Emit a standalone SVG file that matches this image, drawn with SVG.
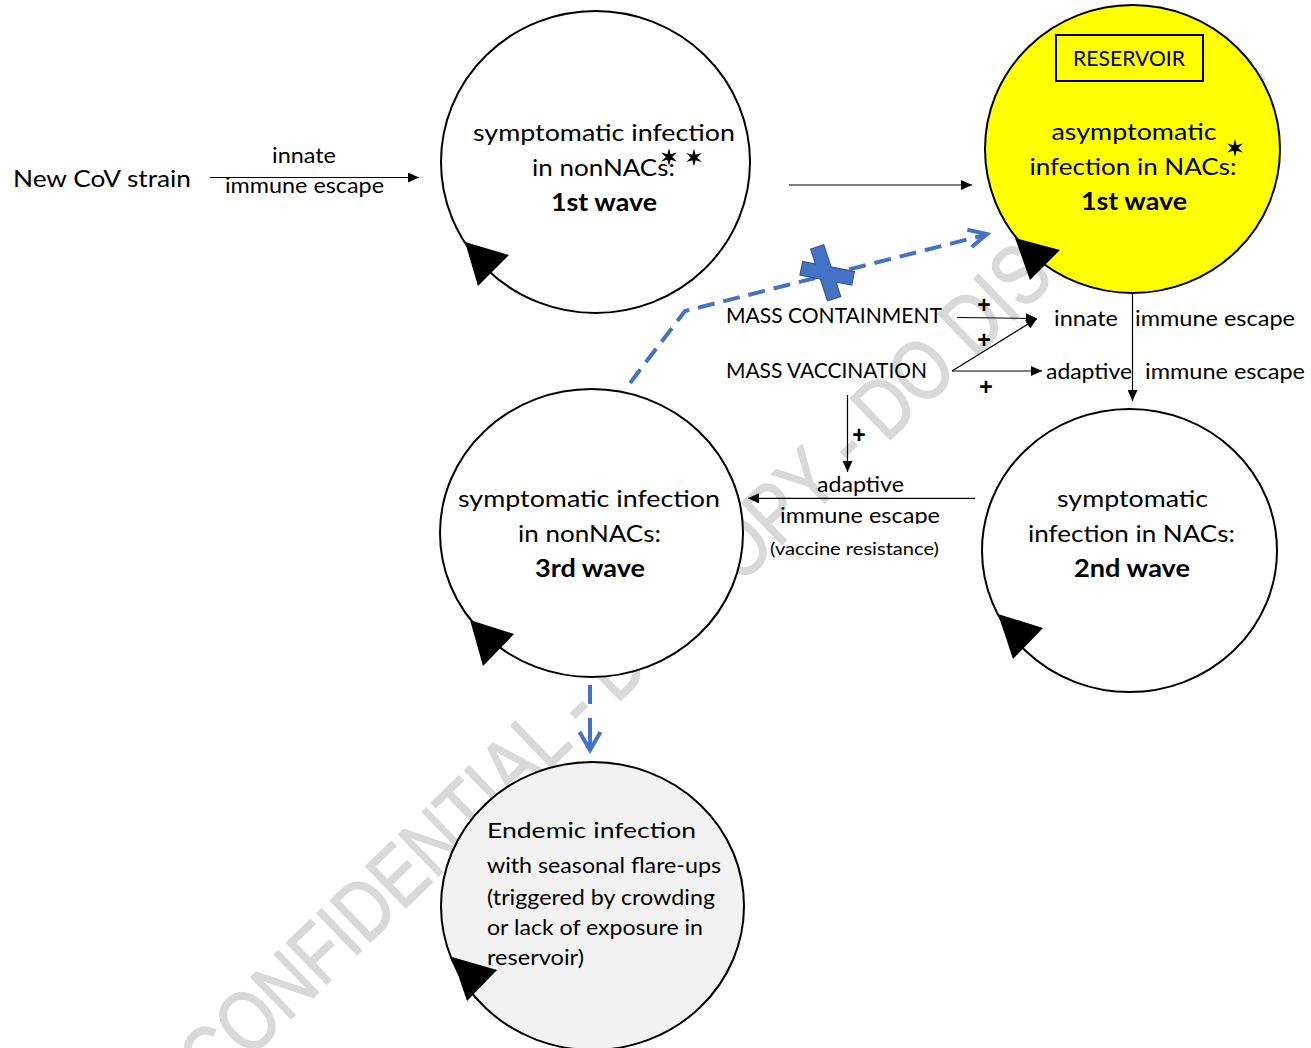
<svg xmlns="http://www.w3.org/2000/svg" width="1311" height="1048" viewBox="0 0 1311 1048">
<style>
text{font-family:Lato,"Liberation Sans",sans-serif;fill:#000}
.c{font-size:24px;text-anchor:middle}
.b{font-weight:bold}
.l{font-size:21px}
.m{text-anchor:middle}
.e{font-size:21px}
.p{font-family:"Liberation Sans",Arial,sans-serif;font-size:23px;font-weight:bold;text-anchor:middle}
.node{stroke:#000;stroke-width:2}
.ln{stroke:#000;stroke-width:1.2;fill:none}
.blue{stroke:#4472c4;stroke-width:4;fill:none}
.wm{font-family:"Liberation Sans",Arial,sans-serif;font-size:84px;fill:#d9d9d9;stroke:#d9d9d9;stroke-width:1.5}
</style>
<defs>
<marker id="ah" markerUnits="userSpaceOnUse" markerWidth="11" markerHeight="10" refX="11" refY="5" orient="auto">
<path d="M0,0 L11,5 L0,10 z" fill="#000"/>
</marker>
<polygon id="star" points="0,-9 1.6,-2.77 7.79,-4.5 3.2,0 7.79,4.5 1.6,2.77 0,9 -1.6,2.77 -7.79,4.5 -3.2,0 -7.79,-4.5 -1.6,-2.77" fill="#000"/>
<clipPath id="cl"><rect x="760" y="500" width="200" height="24"/></clipPath>
</defs>

<g id="watermark">
<text class="wm" transform="translate(213,1094) rotate(-44)" textLength="1465" lengthAdjust="spacingAndGlyphs">CONFIDENTIAL - DO COPY - DO DISTRIBUTE</text>
</g>

<g id="node-nonnacs-1st">
<ellipse class="node" cx="595.5" cy="162" rx="154.5" ry="151" fill="#fff"/>
<polygon points="465,242 509,255 478,286" fill="#000"/>
<text class="c" x="604" y="141" textLength="262" lengthAdjust="spacingAndGlyphs">symptomatic infection</text>
<text class="c" x="603.5" y="176" textLength="143" lengthAdjust="spacingAndGlyphs">in nonNACs:</text>
<text class="c b" x="604" y="211" textLength="106" lengthAdjust="spacingAndGlyphs">1st wave</text>
<use href="#star" x="669" y="157"/>
<use href="#star" x="694" y="157.5"/>
</g>

<g id="node-reservoir">
<ellipse class="node" cx="1132.5" cy="149" rx="147.5" ry="144" fill="#ffff00"/>
<polygon points="1015,238 1060,250 1030,280" fill="#000"/>
<rect x="1056" y="35" width="147" height="46" fill="none" stroke="#000" stroke-width="2"/>
<text class="l m" x="1129" y="66" textLength="112" lengthAdjust="spacingAndGlyphs">RESERVOIR</text>
<text class="c" x="1134" y="140" textLength="165" lengthAdjust="spacingAndGlyphs">asymptomatic</text>
<text class="c" x="1133" y="175" textLength="207" lengthAdjust="spacingAndGlyphs">infection in NACs:</text>
<text class="c b" x="1134" y="210" textLength="106" lengthAdjust="spacingAndGlyphs">1st wave</text>
<use href="#star" x="1235" y="148"/>
</g>

<g id="node-nonnacs-3rd">
<ellipse class="node" cx="591.5" cy="533" rx="151.5" ry="144" fill="#fff"/>
<polygon points="470,620 514,634 483,666" fill="#000"/>
<text class="c" x="589" y="507" textLength="262" lengthAdjust="spacingAndGlyphs">symptomatic infection</text>
<text class="c" x="589.5" y="542" textLength="143" lengthAdjust="spacingAndGlyphs">in nonNACs:</text>
<text class="c b" x="590" y="577" textLength="110" lengthAdjust="spacingAndGlyphs">3rd wave</text>
</g>

<g id="node-nacs-2nd">
<ellipse class="node" cx="1129.5" cy="550.5" rx="147.5" ry="141.5" fill="#fff"/>
<polygon points="998,614 1043,628 1013,659" fill="#000"/>
<text class="c" x="1132.5" y="507" textLength="151" lengthAdjust="spacingAndGlyphs">symptomatic</text>
<text class="c" x="1131.5" y="542" textLength="207" lengthAdjust="spacingAndGlyphs">infection in NACs:</text>
<text class="c b" x="1132" y="577" textLength="116" lengthAdjust="spacingAndGlyphs">2nd wave</text>
</g>

<g id="node-endemic">
<ellipse class="node" cx="592.5" cy="906" rx="151.5" ry="144" fill="#f2f2f2"/>
<polygon points="452,957 497,970 467,1001" fill="#000"/>
<text class="e" x="487" y="838" font-size="22" textLength="209" lengthAdjust="spacingAndGlyphs">Endemic infection</text>
<text class="e" x="487" y="873" textLength="234" lengthAdjust="spacingAndGlyphs">with seasonal flare-ups</text>
<text class="e" x="487" y="905" textLength="228" lengthAdjust="spacingAndGlyphs">(triggered by crowding</text>
<text class="e" x="487" y="935" textLength="216" lengthAdjust="spacingAndGlyphs">or lack of exposure in</text>
<text class="e" x="487" y="965" textLength="97" lengthAdjust="spacingAndGlyphs">reservoir)</text>
</g>

<g id="node-new-strain">
<text x="13" y="187" font-size="24" textLength="178" lengthAdjust="spacingAndGlyphs">New CoV strain</text>
</g>
<g id="node-mass-containment">
<text class="l" x="726" y="323" textLength="216" lengthAdjust="spacingAndGlyphs">MASS CONTAINMENT</text>
</g>
<g id="node-mass-vaccination">
<text class="l" x="726" y="378" textLength="201" lengthAdjust="spacingAndGlyphs">MASS VACCINATION</text>
</g>
<g id="node-innate-escape">
<text class="l" x="1054" y="326" textLength="64" lengthAdjust="spacingAndGlyphs">innate</text>
<text class="l" x="1135" y="326" textLength="160" lengthAdjust="spacingAndGlyphs">immune escape</text>
</g>
<g id="node-adaptive-escape">
<text class="l" x="1046" y="379" textLength="86" lengthAdjust="spacingAndGlyphs">adaptive</text>
<text class="l" x="1145" y="379" textLength="160" lengthAdjust="spacingAndGlyphs">immune escape</text>
</g>

<g id="connectors">
<line class="ln" x1="210" y1="177.5" x2="419" y2="177.5" marker-end="url(#ah)"/>
<line class="ln" x1="789" y1="185" x2="972" y2="185" marker-end="url(#ah)"/>
<line class="ln" x1="957" y1="317.5" x2="1037" y2="318.5" marker-end="url(#ah)"/>
<line class="ln" x1="952" y1="371" x2="1037" y2="318.5" marker-end="url(#ah)"/>
<line class="ln" x1="952" y1="371" x2="1042" y2="371" marker-end="url(#ah)"/>
<line class="ln" x1="1132.5" y1="293" x2="1132.5" y2="401" marker-end="url(#ah)"/>
<line class="ln" x1="847.5" y1="395" x2="847.5" y2="472" marker-end="url(#ah)"/>
<line class="ln" x1="975" y1="498.3" x2="748" y2="498.3" marker-end="url(#ah)"/>
<path class="blue" d="M630,383 L685,311 L983,235.5" stroke-dasharray="17 9"/>
<polyline class="blue" points="967.4,229.7 987,234 971.8,247.1"/>
<line class="blue" x1="590" y1="685" x2="590" y2="704"/>
<line class="blue" x1="590" y1="718" x2="590" y2="748"/>
<polyline class="blue" points="579.5,732 590,750 600.5,732"/>
<g stroke="#2f528f" stroke-width="2" fill="#4472c4">
<polygon points="800.45,274.7 851.45,284.7 853.95,271.9 802.95,261.9"/>
<polygon points="811.1,249.3 827.8,300.3 840.2,296.3 823.5,245.3"/>
</g>
<g fill="#4472c4">
<polygon points="800.45,274.7 851.45,284.7 853.95,271.9 802.95,261.9"/>
<polygon points="811.1,249.3 827.8,300.3 840.2,296.3 823.5,245.3"/>
</g>
</g>

<g id="labels">
<text class="l m" x="304" y="163" textLength="64" lengthAdjust="spacingAndGlyphs">innate</text>
<text class="l m" x="304.5" y="193" textLength="159" lengthAdjust="spacingAndGlyphs">immune escape</text>
<text class="l m" x="860.5" y="492" textLength="87" lengthAdjust="spacingAndGlyphs">adaptive</text>
<text class="l m" x="860" y="523" textLength="160" lengthAdjust="spacingAndGlyphs" clip-path="url(#cl)">immune escape</text>
<text class="m" x="854.5" y="555" font-size="18" textLength="169" lengthAdjust="spacingAndGlyphs">(vaccine resistance)</text>
<text class="p" x="984" y="313">+</text>
<text class="p" x="984" y="348">+</text>
<text class="p" x="986" y="395">+</text>
<text class="p" x="859" y="443">+</text>
</g>
</svg>
